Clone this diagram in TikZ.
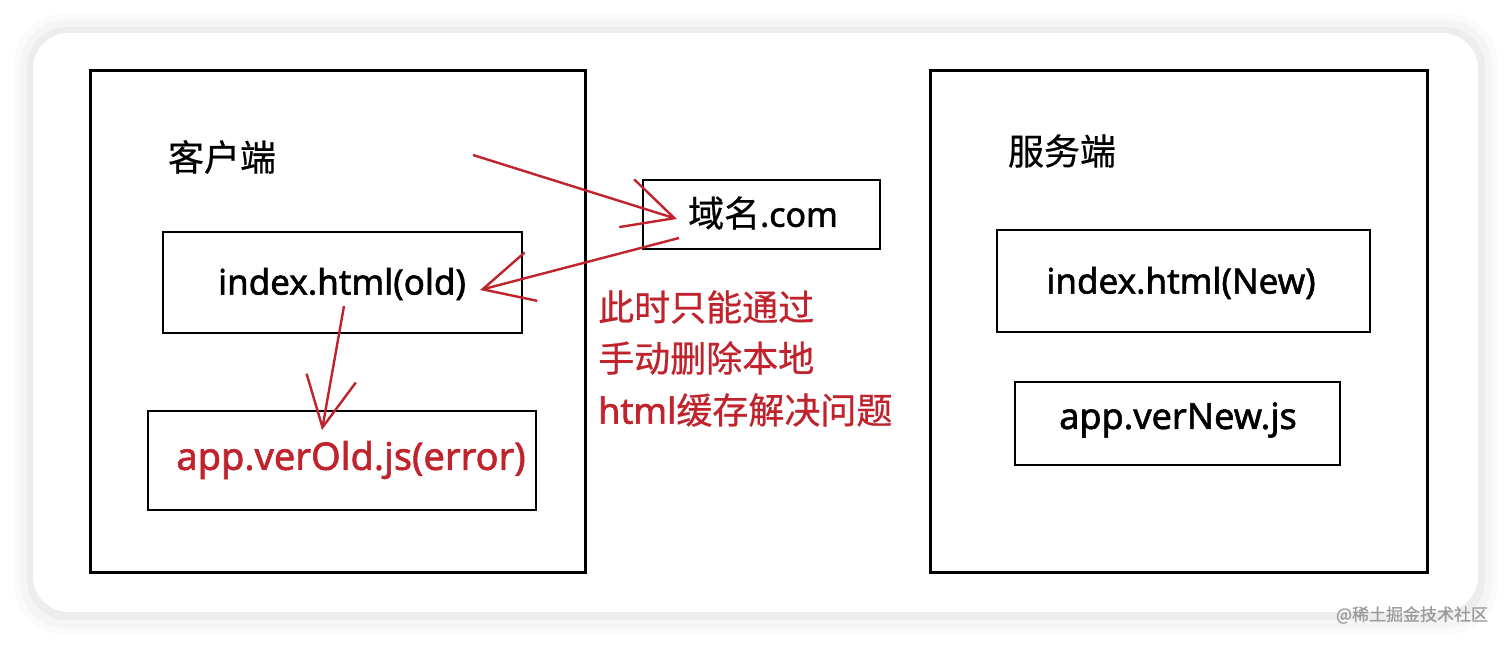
\documentclass[tikz,border=0pt]{standalone}
\usepackage{fontspec}
\setmainfont{Noto Sans CJK SC}
\newfontfamily\cjk[FakeBold=0.6]{Noto Sans CJK SC}
\newfontfamily\lat[FakeBold=1.6]{Noto Sans}
\usetikzlibrary{arrows.meta}
\definecolor{sketchred}{HTML}{C0232C}
\definecolor{wmgray}{HTML}{9A9A9A}
\begin{document}
\begin{tikzpicture}[x=1pt,y=-1pt,
  box/.style={draw=black,line width=2.8pt,inner sep=0pt},
  bigbox/.style={draw=black,line width=3pt},
  lbl/.style={font=\cjk\fontsize{36}{40}\selectfont,text=black,inner sep=0pt},
  redlbl/.style={font=\cjk\fontsize{36}{40}\selectfont,text=sketchred,inner sep=0pt,anchor=west},
  code/.style={font=\lat\fontsize{34}{38}\selectfont,inner sep=0pt},
  redarrow/.style={draw=sketchred,line width=2.4pt,-{Straight Barb[length=50pt,width=50pt,line width=2.4pt]}}
]
\useasboundingbox (0,0) rectangle (1512,646);
% background and card
\fill[white] (0,0) rectangle (1512,646);
\fill[black!2,rounded corners=50pt] (14,14) rectangle (1498,634);
\fill[black!4,rounded corners=46pt] (20,20) rectangle (1492,628);
\fill[black!7,rounded corners=40pt] (27,27) rectangle (1485,620);
\fill[white,rounded corners=36pt] (33,33) rectangle (1478,612);
% big boxes
\draw[bigbox] (90,70) rectangle (585,572);
\draw[bigbox] (930,70) rectangle (1427,572);
\node[lbl] (client) at (222,157) {客户端};
\node[lbl] (server) at (1062,151) {服务端};
% left inner boxes
\draw[box] (163,232) rectangle (522,333);
\node[code,font=\lat\fontsize{35}{38}\selectfont] (idxold) at (342,284) {index.html(old)};
\draw[box] (148,411) rectangle (536,510);
\node[code,text=sketchred,font=\lat\fontsize{38}{40}\selectfont] (appold) at (351,460) {app.verOld.js(error)};
% domain box
\draw[box] (643,180) rectangle (880,249);
\node[lbl] (domain) at (763,213) {域名{\lat\fontsize{34}{38}\selectfont .com}};
% right inner boxes
\draw[box] (997,230) rectangle (1370,332);
\node[code,font=\lat\fontsize{35}{38}\selectfont] (idxnew) at (1181,283) {index.html(New)};
\draw[box] (1015,382) rectangle (1340,465);
\node[code,font=\lat\fontsize{36}{38}\selectfont] (appnew) at (1178,420) {app.verNew.js};
% red note
\node[redlbl] (note1) at (598,307) {此时只能通过};
\node[redlbl] (note2) at (598,358) {手动删除本地};
\node[redlbl] (note3) at (598,410) {{\lat\fontsize{36}{40}\selectfont html}缓存解决问题};
% arrows
\coordinate (a1s) at (473,155);
\coordinate (a1e) at (677,219);
\coordinate (a2s) at (679,238);
\coordinate (a2e) at (480,290);
\coordinate (a3s) at (344,306);
\coordinate (a3e) at (322,430);
\draw[redarrow] (a1s) -- (a1e);
\draw[redarrow] (a2s) -- (a2e);
\draw[redarrow] (a3s) -- (a3e);
% watermark
\node[font=\cjk\fontsize{17}{20}\selectfont,text=wmgray,inner sep=0pt] (wm) at (1412,615) {@稀土掘金技术社区};
\end{tikzpicture}
\end{document}
